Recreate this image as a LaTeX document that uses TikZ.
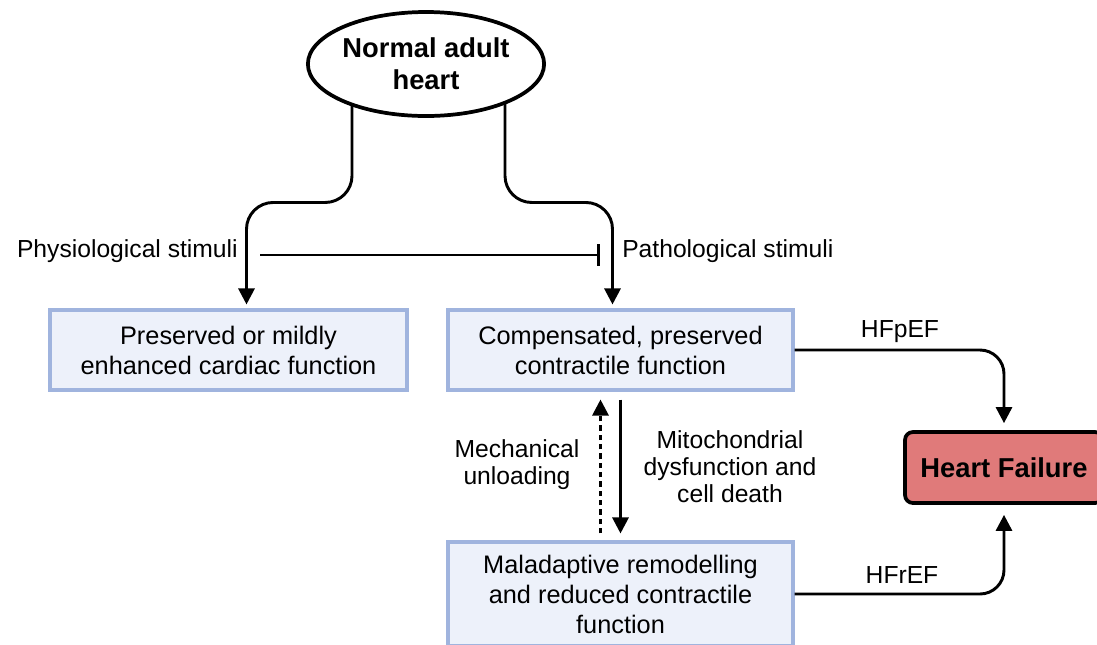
\documentclass[tikz,border=0pt]{standalone}
\usepackage{fontspec}
\setmainfont{Liberation Sans}
\usetikzlibrary{arrows.meta,calc,shapes.geometric}
\pgfdeclarelayer{background}
\pgfsetlayers{background,main}
\definecolor{boxfill}{RGB}{237,241,250}
\definecolor{boxline}{RGB}{160,180,222}
\definecolor{hffill}{RGB}{224,122,122}
\tikzset{
  px/.style={x=0.75pt,y=-0.75pt},
  bluebox/.style={draw=boxline,fill=boxfill,line width=2.3pt,align=center,inner sep=0pt,
    font=\fontsize{19}{22.5}\selectfont},
  lbl/.style={align=center,inner sep=0pt,font=\fontsize{18.5}{20.3}\selectfont},
  arr/.style={line width=2.2pt,-{Triangle[length=12pt,width=12pt]}},
  conn/.style={line width=2.2pt},
}
\begin{document}
\begin{tikzpicture}[px]
\useasboundingbox (0,0) rectangle (1097,644);
\node[ellipse,draw,line width=2.8pt,fill=white,minimum width=228*0.75pt,minimum height=104*0.75pt,
  align=center,inner sep=0pt,font=\fontsize{20.5}{24}\selectfont\bfseries] (heart) at (426,64) {Normal adult\\heart};
\node[bluebox,minimum width=357*0.75pt,minimum height=80*0.75pt] (lbox) at (228.5,350) {Preserved or mildly\\enhanced cardiac function};
\node[bluebox,minimum width=345*0.75pt,minimum height=80*0.75pt] (mbox) at (620.5,350) {Compensated, preserved\\contractile function};
\node[bluebox,minimum width=345*0.75pt,minimum height=104*0.75pt] (bbox) at (620.5,594) {Maladaptive remodelling\\and reduced contractile\\function};
\node[draw,fill=hffill,line width=2.8pt,rounded corners=6pt,minimum width=198*0.75pt,minimum height=71*0.75pt,
  inner sep=0pt,font=\fontsize{20.5}{24}\selectfont\bfseries] (hf) at (1004,467.5) {Heart Failure};
\node[lbl,anchor=east] (phys) at (238,251) {Physiological stimuli};
\node[lbl,anchor=west] (path) at (622,251) {Pathological stimuli};
\node[lbl] (mech) at (517,465) {Mechanical\\unloading};
\node[lbl] (mito) at (730,467) {Mitochondrial\\dysfunction and\\cell death};
\node[lbl] (hfp) at (900,332) {HFpEF};
\node[lbl] (hfr) at (902,575) {HFrEF};
\begin{pgfonlayer}{background}
\draw[arr,rounded corners=20pt] ($(heart.center)+(-74,0)$) |- ($(lbox.north)+(18,-106)$) -- ($(lbox.north)+(18,-4)$);
\draw[arr,rounded corners=20pt] ($(heart.center)+(79,0)$) |- ($(mbox.north)+(-8,-106)$) -- ($(mbox.north)+(-8,-4)$);
\end{pgfonlayer}
\draw[conn,-{Bar[width=16pt]}] ($(phys.east)+(22,4)$) -- ($(path.west)+(-22,4)$);
\draw[arr,dash pattern=on 4pt off 3pt] ($(bbox.north)+(-20,-7)$) -- ($(mbox.south)+(-20,8)$);
\draw[arr] ($(mbox.south)+(0,8)$) -- ($(bbox.north)+(0,-7)$);
\draw[arr,rounded corners=18pt] (mbox.east) -| ($(hf.north)+(0,-7)$);
\draw[arr,rounded corners=18pt] (bbox.east) -| ($(hf.south)+(0,10)$);
\end{tikzpicture}
\end{document}
